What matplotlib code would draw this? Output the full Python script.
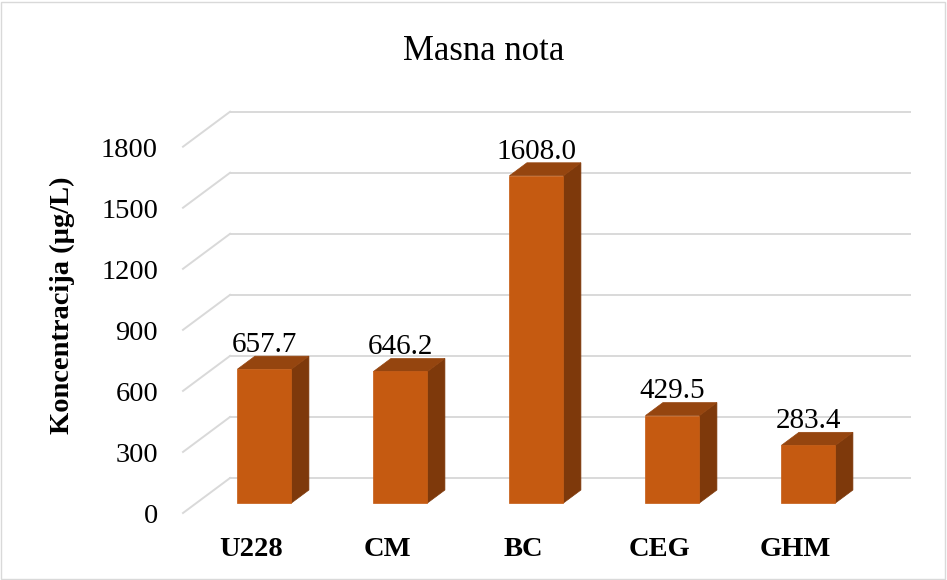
import matplotlib
matplotlib.use('Agg')
import matplotlib.pyplot as plt
from matplotlib.patches import Polygon, Rectangle

# data
categories = ['U228', 'CM', 'BC', 'CEG', 'GHM']
values = [657.7, 646.2, 1608.0, 429.5, 283.4]
y_ticks = [0, 300, 600, 900, 1200, 1500, 1800]

plt.rcParams['font.family'] = ['Liberation Serif', 'DejaVu Serif']

# Excel-style 3D look: depth vector of the floor in (category, value) units
DEPTH_DX = 0.346
DEPTH_DV = 172
BAR_Z0, BAR_Z1 = 0.286, 0.657
HALF_W = 0.1985

FRONT = '#C55A11'
TOP = '#95450F'
SIDE = '#7E390B'
GRID = '#D9D9D9'

fig = plt.figure(figsize=(9.47, 5.80), dpi=100)
fig.patches.append(Rectangle((0.001, 0.001), 0.997, 0.996, transform=fig.transFigure,
                             fill=False, edgecolor=GRID, lw=1.0))

x_min, x_max = -0.5, len(categories) - 0.5
ax = fig.add_axes([183 / 947, 67 / 580, (x_max - x_min + DEPTH_DX) * 136 / 947,
                   (y_ticks[-1] + DEPTH_DV) * 0.2035 / 580])
ax.set_xlim(x_min, x_max + DEPTH_DX)
ax.set_ylim(0, y_ticks[-1] + DEPTH_DV)
ax.axis('off')

# back wall gridlines + side diagonals
for t in y_ticks:
    ax.plot([x_min + DEPTH_DX, x_max + DEPTH_DX], [t + DEPTH_DV, t + DEPTH_DV],
            color=GRID, lw=1.4, clip_on=False, zorder=1)
    ax.plot([x_min, x_min + DEPTH_DX], [t, t + DEPTH_DV],
            color=GRID, lw=1.4, clip_on=False, zorder=1)
    ax.annotate(str(t), (x_min, t), xytext=(-18, -2.5), textcoords='offset points',
                ha='right', va='center', fontsize=20.5, annotation_clip=False)

fx, fv = BAR_Z0 * DEPTH_DX, BAR_Z0 * DEPTH_DV
bx, bv = BAR_Z1 * DEPTH_DX, BAR_Z1 * DEPTH_DV

for i, (cat, v) in enumerate(zip(categories, values)):
    left, right = i - HALF_W, i + HALF_W
    front = [(left + fx, fv), (right + fx, fv), (right + fx, v + fv), (left + fx, v + fv)]
    top = [(left + fx, v + fv), (right + fx, v + fv), (right + bx, v + bv), (left + bx, v + bv)]
    side = [(right + fx, fv), (right + bx, bv), (right + bx, v + bv), (right + fx, v + fv)]
    for pts, col in ((side, SIDE), (top, TOP), (front, FRONT)):
        ax.add_patch(Polygon(pts, closed=True, facecolor=col, edgecolor=col, lw=0.5, zorder=3))

    ax.annotate(f'{v:.1f}', (i + fx, v + bv), xytext=(0, 3), textcoords='offset points',
                ha='center', va='baseline', fontsize=21, zorder=5)
    ax.annotate(cat, (i, 0), xytext=(0, -26), textcoords='offset points',
                ha='center', va='center', fontsize=20.5, fontweight='bold',
                annotation_clip=False)

fig.text(483.5 / 947, 1 - 52 / 580, 'Masna nota', ha='center', va='center', fontsize=25)
fig.text(62 / 947, 1 - 305 / 580, 'Koncentracija (µg/L)', ha='center', va='center',
         rotation=90, fontsize=20.5, fontweight='bold')

fig.savefig('out.png', dpi=100)
